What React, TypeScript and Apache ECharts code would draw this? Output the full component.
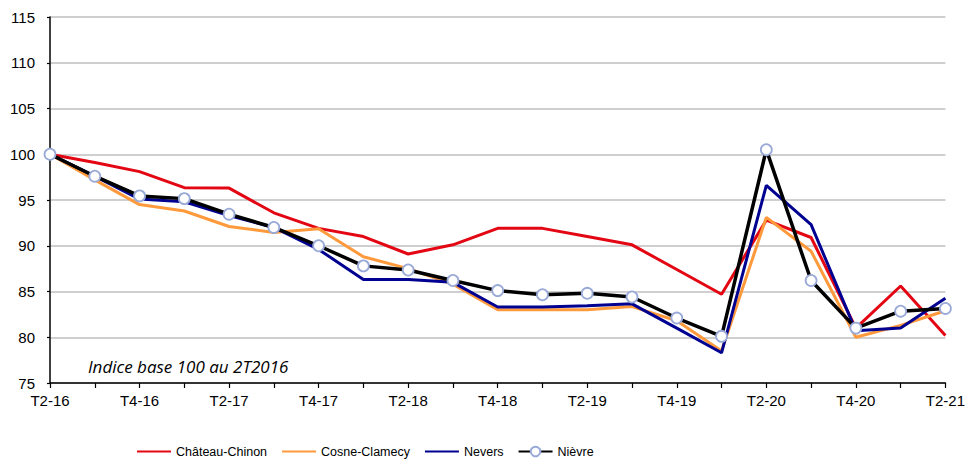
import React, { useEffect, useRef } from "react";
import * as echarts from "echarts";

const categories = [
  "T2-16", "T3-16", "T4-16", "T1-17", "T2-17", "T3-17", "T4-17", "T1-18", "T2-18", "T3-18", "T4-18",
  "T1-19", "T2-19", "T3-19", "T4-19", "T1-20", "T2-20", "T3-20", "T4-20", "T1-21", "T2-21",
];

const chateauChinon = [100, 99.1, 98.1, 96.35, 96.3, 93.6, 91.9, 91.0, 89.1, 90.1, 91.9, 91.9, 91.0, 90.1, 87.4, 84.7, 92.8, 90.9, 81.0, 85.6, 80.2];
const cosneClamecy = [100, 97.2, 94.5, 93.8, 92.1, 91.45, 91.85, 88.8, 87.5, 85.8, 83.0, 83.0, 83.0, 83.35, 81.8, 78.5, 93.1, 89.4, 80.0, 81.3, 82.9];
const nevers = [100, 97.6, 95.1, 94.8, 93.3, 92.0, 89.6, 86.3, 86.3, 86.0, 83.3, 83.3, 83.45, 83.65, 81.0, 78.3, 96.6, 92.3, 80.7, 81.0, 84.25];
const nievre = [100, 97.6, 95.45, 95.15, 93.45, 92.0, 90.0, 87.8, 87.35, 86.2, 85.1, 84.65, 84.8, 84.4, 82.1, 80.1, 100.5, 86.2, 81.0, 82.85, 83.15];

const yMin = 75;
const yMax = 115;
const yStep = 5;

export default function App() {
  const ref = useRef<HTMLDivElement>(null);
  useEffect(() => {
    if (!ref.current) return;
    const chart = echarts.init(ref.current, undefined, { renderer: "svg" });
    const font = "'Liberation Sans', Arial, sans-serif";
    const lineSeries = (name: string, data: number[], color: string, width: number) => ({
      name,
      type: "line",
      data,
      symbol: "none",
      showSymbol: false,
      lineStyle: { color, width },
      itemStyle: { color },
    });
    const hiddenDot = { color: "rgba(0,0,0,0)", borderWidth: 0, opacity: 0 };
    chart.setOption({
      animation: false,
      backgroundColor: "#ffffff",
      textStyle: { fontFamily: font },
      grid: { left: 50, right: 19, top: 17, bottom: 80, containLabel: false },
      xAxis: {
        type: "category",
        data: categories,
        boundaryGap: false,
        axisLine: { lineStyle: { color: "#000", width: 1.5 } },
        axisTick: { show: true, interval: 0, length: 5, lineStyle: { color: "#000", width: 1.2 } },
        axisLabel: { interval: 1, color: "#000", fontSize: 15, fontFamily: font, margin: 10 },
        splitLine: { show: false },
      },
      yAxis: {
        type: "value",
        min: yMin,
        max: yMax,
        interval: yStep,
        axisLine: { show: true, lineStyle: { color: "#000", width: 1.5 } },
        axisTick: { show: true, length: 3, lineStyle: { color: "#000", width: 1.2 } },
        axisLabel: { color: "#000", fontSize: 15, fontFamily: font, margin: 15 },
        splitLine: { show: true, lineStyle: { color: "#bfbfbf", width: 1.5 } },
      },
      legend: {
        left: 131,
        top: 440,
        itemGap: 14,
        itemWidth: 34,
        itemHeight: 12,
        textStyle: { color: "#000", fontSize: 12.5, fontFamily: font },
        data: [
          { name: "Château-Chinon", itemStyle: hiddenDot },
          { name: "Cosne-Clamecy", itemStyle: hiddenDot },
          { name: "Nevers", itemStyle: hiddenDot },
          { name: "Nièvre" },
        ],
      },
      graphic: [
        {
          type: "text",
          x: 88,
          y: 366,
          style: {
            text: "Indice base 100 au 2T2016",
            fontStyle: "italic",
            fontSize: 17,
            fontFamily: "'Open Sans', 'Noto Sans', sans-serif",
            verticalAlign: "middle",
            align: "left",
            fill: "#000",
          },
        },
      ],
      series: [
        lineSeries("Château-Chinon", chateauChinon, "#e30613", 3),
        lineSeries("Cosne-Clamecy", cosneClamecy, "#ff9a3c", 3),
        lineSeries("Nevers", nevers, "#000091", 3),
        {
          name: "Nièvre",
          type: "line",
          data: nievre,
          symbol: "circle",
          symbolSize: 11,
          showSymbol: true,
          lineStyle: { color: "#000", width: 3.5 },
          itemStyle: { color: "#ffffff", borderColor: "#9aaad8", borderWidth: 1.8 },
        },
      ],
    });
    return () => chart.dispose();
  }, []);
  return (
    <div
      ref={ref}
      style={{ position: "fixed", left: 0, top: 0, width: 968, height: 463 }}
    />
  );
}
